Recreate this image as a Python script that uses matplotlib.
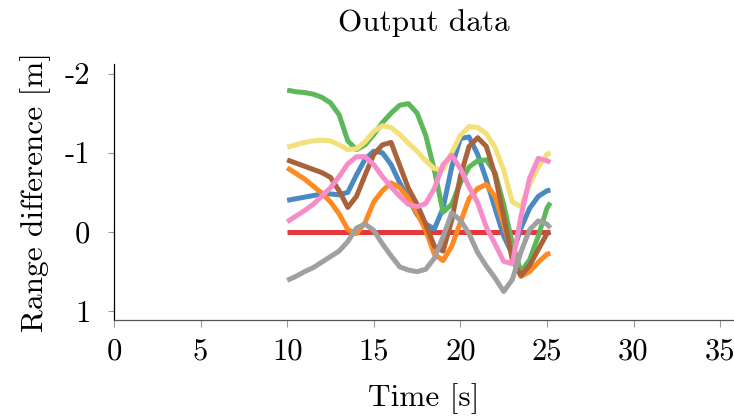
import numpy as np
import matplotlib
matplotlib.use('Agg')
import matplotlib.pyplot as plt

plt.rcParams['font.family'] = ['cmr10', 'DejaVu Serif']
plt.rcParams['mathtext.fontset'] = 'cm'
plt.rcParams['axes.unicode_minus'] = False

# sample times [s]
t = [10, 10.5, 11, 11.5, 12, 12.5, 13, 13.5, 14, 14.5, 15, 15.5, 16, 16.5,
     17, 17.5, 18, 18.5, 19, 19.5, 20, 20.5, 21, 21.5, 22, 22.5, 23, 23.5,
     24, 24.5, 25, 25.2]

# range difference per receiver [m]
ref = [0.0] * len(t)
blue = [-0.40, -0.42, -0.44, -0.46, -0.48, -0.48, -0.47, -0.50, -0.72, -0.92,
        -1.02, -1.00, -0.85, -0.62, -0.42, -0.22, -0.10, -0.04, -0.30, -0.82,
        -1.18, -1.20, -0.98, -0.66, -0.30, 0.05, 0.28, -0.05, -0.30, -0.45,
        -0.52, -0.53]
green = [-1.79, -1.77, -1.76, -1.74, -1.70, -1.63, -1.48, -1.15, -1.04, -1.10,
         -1.23, -1.38, -1.50, -1.60, -1.62, -1.50, -1.22, -0.78, -0.25, -0.35,
         -0.62, -0.82, -0.90, -0.91, -0.75, -0.35, 0.15, 0.50, 0.35, 0.05,
         -0.30, -0.37]
orange = [-0.81, -0.74, -0.67, -0.58, -0.49, -0.38, -0.23, -0.03, 0.02, -0.12,
          -0.38, -0.52, -0.62, -0.56, -0.42, -0.24, -0.02, 0.28, 0.36, 0.18,
          -0.12, -0.42, -0.55, -0.60, -0.45, -0.10, 0.30, 0.56, 0.50, 0.38,
          0.28, 0.27]
yellow = [-1.07, -1.10, -1.13, -1.15, -1.16, -1.15, -1.10, -1.04, -1.05, -1.14,
          -1.27, -1.34, -1.32, -1.23, -1.12, -1.02, -0.90, -0.80, -0.79, -1.00,
          -1.22, -1.33, -1.32, -1.24, -1.07, -0.78, -0.38, -0.32, -0.60, -0.82,
          -0.98, -1.00]
brown = [-0.91, -0.87, -0.83, -0.79, -0.75, -0.69, -0.52, -0.31, -0.45, -0.72,
         -0.98, -1.10, -1.13, -0.84, -0.55, -0.35, -0.10, 0.18, 0.24, -0.15,
         -0.70, -1.08, -1.19, -1.08, -0.72, -0.20, 0.35, 0.55, 0.42, 0.22,
         0.02, 0.0]
pink = [-0.13, -0.20, -0.27, -0.35, -0.45, -0.56, -0.70, -0.86, -0.95, -0.95,
        -0.85, -0.70, -0.57, -0.45, -0.35, -0.32, -0.36, -0.55, -0.85, -0.97,
        -0.80, -0.57, -0.37, -0.06, 0.15, 0.37, 0.40, -0.20, -0.68, -0.93,
        -0.90, -0.88]
grey = [0.61, 0.56, 0.50, 0.45, 0.38, 0.31, 0.24, 0.12, -0.05, -0.10,
        -0.02, 0.15, 0.30, 0.44, 0.48, 0.50, 0.47, 0.33, 0.06, -0.24,
        -0.15, 0.02, 0.26, 0.43, 0.58, 0.75, 0.60, 0.25, -0.03, -0.14,
        -0.10, -0.05]

series = [ref, blue, green, orange, yellow, brown, pink, grey]
colors = ['#E5383C', '#4A89C2', '#5DB85A', '#FF8A1F', '#F3E07A', '#A9623A',
          '#F78DC8', '#A0A0A0']

fig = plt.figure(figsize=(7.34, 4.18), dpi=100)
ax = fig.add_axes([114/734, 1 - 320/418, 620/734, 256/418])

for vals, c in zip(series, colors):
    ax.plot(t, vals, color=c, lw=3.6, solid_capstyle='butt',
            solid_joinstyle='round')

ax.set_xlim(0, 35.8)
ax.set_ylim(1.11, -2.12)
ax.set_xticks([0, 5, 10, 15, 20, 25, 30, 35])
ax.set_yticks([-2, -1, 0, 1])
ax.set_yticklabels(['-2', '-1', '0', '1'])

for s in ['top', 'right']:
    ax.spines[s].set_visible(False)
ax.spines['left'].set_color('black')
ax.spines['bottom'].set_color('#555555')
ax.spines['left'].set_linewidth(0.9)
ax.spines['bottom'].set_linewidth(0.9)
ax.tick_params(axis='x', length=5, width=0.8, color='#999999', pad=8,
               labelsize=22)
ax.tick_params(axis='y', length=4, width=0.8, color='#999999', pad=13,
               labelsize=22)

ax.set_xlabel('Time [s]', fontsize=22.5, labelpad=13)
ax.set_ylabel('Range difference [m]', fontsize=22.5, labelpad=10)
ax.set_title('Output data', fontsize=22.5, pad=24)

fig.savefig('out.png', dpi=100)
